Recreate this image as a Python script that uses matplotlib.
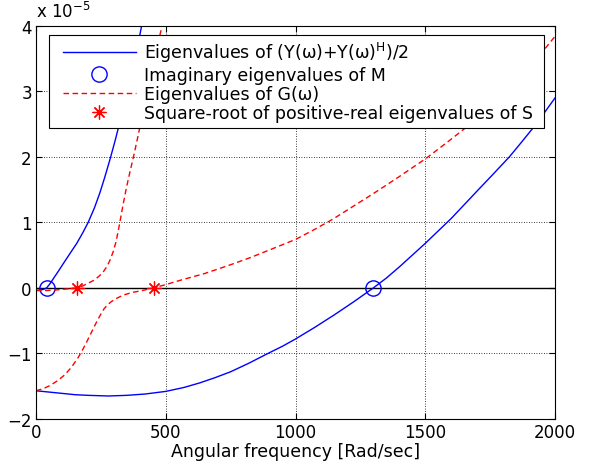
import matplotlib
matplotlib.use("Agg")
import matplotlib.pyplot as plt
from matplotlib.lines import Line2D
from matplotlib.legend_handler import HandlerLine2D

plt.rcParams['font.family'] = ['DejaVu Sans']
plt.rcParams['mathtext.fontset'] = 'dejavusans'

# values, y in units of 1e-5
blue1_x = [0, 15, 30, 41, 55, 70, 87, 105, 130, 157, 180, 201, 225, 246, 265, 285, 305, 323, 343, 362, 380, 397, 412]
blue1_y = [-0.04, -0.035, -0.02, 0, 0.07, 0.16, 0.26, 0.37, 0.52, 0.68, 0.84, 1.0, 1.22, 1.45, 1.69, 1.96, 2.25,
           2.53, 2.85, 3.17, 3.5, 3.8, 4.1]

blue2_x = [0, 50, 100, 150, 200, 280, 350, 420, 500, 570, 631, 690, 750, 820, 894, 950, 1000, 1075, 1150, 1225,
           1300, 1350, 1400, 1450, 1500, 1550, 1600, 1650, 1700, 1760, 1824, 1870, 1921, 1960, 2000]
blue2_y = [-1.57, -1.59, -1.61, -1.63, -1.64, -1.65, -1.64, -1.62, -1.58, -1.52, -1.45, -1.37, -1.28, -1.15, -1.0,
           -0.89, -0.78, -0.6, -0.41, -0.21, 0, 0.15, 0.32, 0.5, 0.68, 0.87, 1.06, 1.27, 1.48, 1.73, 2.0, 2.22, 2.47,
           2.68, 2.9]

red1_x = [0, 40, 80, 120, 157, 180, 200, 225, 246, 262, 275, 287, 298, 308, 316, 323, 336, 349, 362, 375, 391, 407,
          423, 439, 461, 484, 492]
red1_y = [-0.04, -0.04, -0.03, -0.015, 0, 0.03, 0.07, 0.12, 0.19, 0.26, 0.34, 0.44, 0.56, 0.7, 0.85, 1.0, 1.28,
          1.54, 1.77, 1.99, 2.28, 2.58, 2.89, 3.2, 3.58, 3.97, 4.1]

red2_x = [0, 27, 54, 82, 110, 137, 163, 183, 201, 221, 236, 250, 262, 275, 290, 310, 336, 370, 410, 452, 500, 550,
          650, 747, 824, 900, 1000, 1072, 1144, 1220, 1300, 1400, 1504, 1590, 1670, 1750, 1837, 1920, 2000]
red2_y = [-1.57, -1.54, -1.49, -1.42, -1.33, -1.21, -1.06, -0.92, -0.78, -0.62, -0.5, -0.4, -0.32, -0.26, -0.21,
          -0.16, -0.11, -0.07, -0.04, 0, 0.05, 0.11, 0.22, 0.35, 0.46, 0.58, 0.74, 0.89, 1.05, 1.24, 1.44, 1.7, 1.98,
          2.24, 2.49, 2.77, 3.1, 3.45, 3.84]

circle_x = [44, 1300]
circle_y = [0, 0]
star_x = [157, 455]
star_y = [0, 0]

labels = ['Eigenvalues of (Y(ω)+Y(ω)$^{\\mathregular{H}}$)/2',
          'Imaginary eigenvalues of M',
          'Eigenvalues of G(ω)',
          'Square-root of positive-real eigenvalues of S']

fig = plt.figure(figsize=(6, 4.64), dpi=100)
ax = fig.add_axes([0.06, 0.095, 0.865, 0.847])

ax.axhline(0, color='black', lw=1)
l1, = ax.plot(blue1_x, blue1_y, color='blue', lw=1)
ax.plot(blue2_x, blue2_y, color='blue', lw=1)
l2, = ax.plot(circle_x, circle_y, 'o', mfc='none', mec='blue', ms=11, mew=1)
l3, = ax.plot(red1_x, red1_y, '--', color='red', lw=1, dashes=(4, 2.5))
ax.plot(red2_x, red2_y, '--', color='red', lw=1, dashes=(4, 2.5))
l4, = ax.plot(star_x, star_y, ls='none', marker=(8, 2, 0), color='red', ms=10, mew=0.9)

ax.set_xlim(0, 2000)
ax.set_ylim(-2, 4)
ax.set_xticks([0, 500, 1000, 1500, 2000])
ax.set_yticks([-2, -1, 0, 1, 2, 3, 4])
ax.grid(True, color='black', ls=(0, (1, 2)), lw=0.6)
ax.tick_params(direction='in', labelsize=12, top=True, right=True, length=4, pad=3)
for s in ax.spines.values():
    s.set_linewidth(0.8)

ax.set_xlabel('Angular frequency [Rad/sec]', fontsize=12.5, labelpad=1)
ax.text(0.0, 1.012, r'x 10$^{-5}$', transform=ax.transAxes, fontsize=12, ha='left', va='bottom')

leg = ax.legend([l1, l2, l3, l4], labels, loc='upper left', bbox_to_anchor=(0.025, 0.5, 0.954, 0.477),
                mode='expand', borderaxespad=0, fontsize=12.5, handlelength=4.7, handletextpad=0.46,
                borderpad=0.3, fancybox=False, framealpha=1, edgecolor='black', labelspacing=0.08,
                handler_map={Line2D: HandlerLine2D(xpad=0.52)})
leg.get_frame().set_linewidth(0.8)

fig.savefig('out.png', dpi=100)
